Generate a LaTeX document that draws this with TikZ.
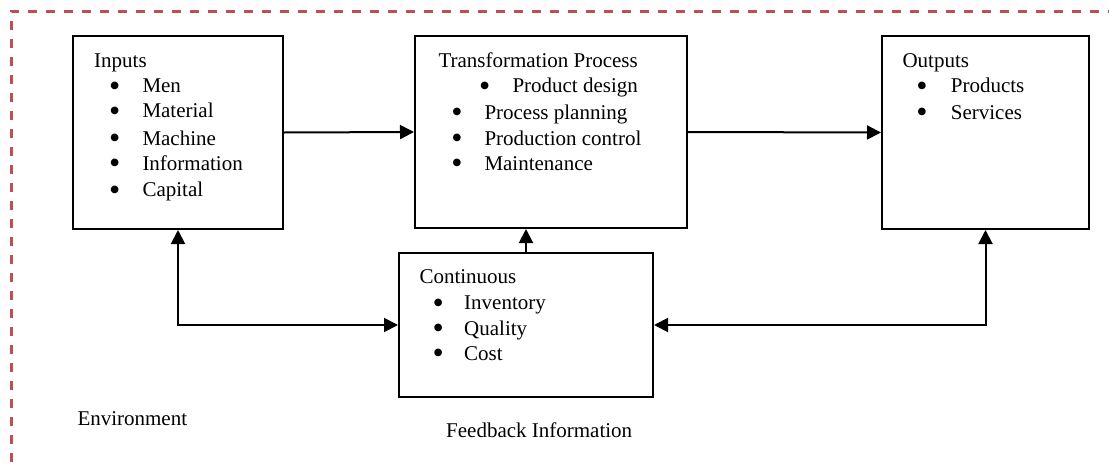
\documentclass[tikz,border=0pt]{standalone}
\usepackage{fontspec}
\setmainfont{Liberation Serif}
\newfontfamily\bulfont{DejaVu Sans}
\usetikzlibrary{arrows.meta}
\definecolor{envred}{RGB}{192,80,77}
\tikzset{
  box/.style={draw=black, line width=2pt, inner sep=0pt, rectangle},
  txt/.style={anchor=base west, inner sep=0pt, font=\fontsize{21}{25}\selectfont},
  bul/.style={anchor=base, inner sep=0pt, yshift=4.3pt, font=\bulfont\fontsize{10}{11}\selectfont},
  conn/.style={draw=black, line width=2pt, -{Triangle[length=14pt,width=14pt]}},
  conn2/.style={draw=black, line width=2pt, {Triangle[length=14pt,width=14pt]}-{Triangle[length=14pt,width=14pt]}},
  envline/.style={draw=envred, line width=3pt, dash pattern=on 9pt off 9pt}
}
\begin{document}
\begin{tikzpicture}[x=1pt,y=-1pt]
\useasboundingbox (0,0) rectangle (1109,466);
\clip (0,0) rectangle (1109,466);
\fill[white] (0,0) rectangle (1109,466);
% environment border
\draw[envline] (11,480) -- (11,11) -- (1125,11);
% boxes
\node[box, minimum width=210pt, minimum height=193pt] (in) at (178,132.5) {};
\node[box, minimum width=272pt, minimum height=192pt] (tr) at (551,132) {};
\node[box, minimum width=207pt, minimum height=193pt] (out) at (985.5,132.5) {};
\node[box, minimum width=254pt, minimum height=144pt] (co) at (526,325) {};
% inputs text
\node[txt] (inT) at (94,67.3) {Inputs};
\node[bul] (inb1) at (114.7,92.3) {●};
\node[txt] (in1) at (142.3,92.3) {Men};
\node[bul] (inb2) at (114.7,117.7) {●};
\node[txt] (in2) at (142.3,117.7) {Material};
\node[bul] (inb3) at (114.7,145) {●};
\node[txt] (in3) at (142.3,145) {Machine};
\node[bul] (inb4) at (114.7,170) {●};
\node[txt] (in4) at (142.3,170) {Information};
\node[bul] (inb5) at (114.7,196.7) {●};
\node[txt] (in5) at (142.3,196.7) {Capital};
% transformation text
\node[txt] (trT) at (438.3,67.3) {Transformation Process};
\node[bul] (trb1) at (484.7,92.7) {●};
\node[txt] (tr1) at (512.3,92.7) {Product design};
\node[bul] (trb2) at (457,119) {●};
\node[txt] (tr2) at (484.3,119) {Process planning};
\node[bul] (trb3) at (457,145) {●};
\node[txt] (tr3) at (484.3,145) {Production control};
\node[bul] (trb4) at (457,170) {●};
\node[txt] (tr4) at (484.3,170) {Maintenance};
% outputs text
\node[txt] (outT) at (902.3,67.3) {Outputs};
\node[bul] (outb1) at (922,92.7) {●};
\node[txt] (out1) at (950.7,92.7) {Products};
\node[bul] (outb2) at (922,119) {●};
\node[txt] (out2) at (950.7,119) {Services};
% continuous text
\node[txt] (coT) at (419.3,283.3) {Continuous};
\node[bul] (cob1) at (438.3,309.3) {●};
\node[txt] (co1) at (464,309.3) {Inventory};
\node[bul] (cob2) at (438.3,335) {●};
\node[txt] (co2) at (464,335) {Quality};
\node[bul] (cob3) at (438.3,360) {●};
\node[txt] (co3) at (464,360) {Cost};
% labels
\node[txt] (env) at (77.3,425.7) {Environment};
\node[txt] (fb) at (446,437.3) {Feedback Information};
% connectors
\draw[conn] (in.east) -- (tr.west);
\draw[conn] (tr.east) -- (out.west);
\draw[conn] (co.north) -- (co.north |- tr.south);
\draw[conn2] (in.south) -- (in.south |- co.west) -- (co.west);
\draw[conn2] (out.south) -- (out.south |- co.east) -- (co.east);
\end{tikzpicture}
\end{document}
